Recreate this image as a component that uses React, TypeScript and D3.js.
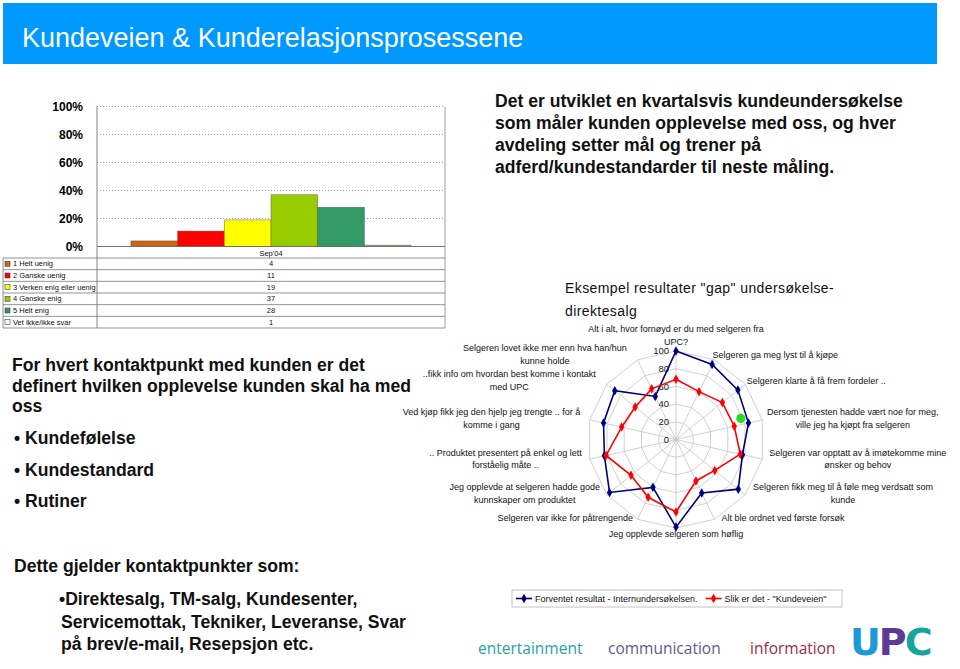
import React from "react";
import * as d3 from "d3";

// ---------- Data ----------
const titleText = "Kundeveien & Kunderelasjonsprosessene";

const barCategories = ["Sep'04"];
const barSeries = [
  "1 Helt uenig",
  "2 Ganske uenig",
  "3 Verken enig eller uenig",
  "4 Ganske enig",
  "5 Helt enig",
  "Vet ikke/ikke svar",
];
const barValues = [4, 11, 19, 37, 28, 1];
const barColors = ["#cc6611", "#ff0000", "#ffff00", "#99cc00", "#339966", "#aaa890"];
const keyColors = ["#cc6611", "#ff0000", "#ffff00", "#99cc00", "#339966", "#ffffff"];
const barTicks = [0, 20, 40, 60, 80, 100];

const radarAxes: string[][] = [
  ["Alt i alt, hvor fornøyd er du med selgeren fra", "UPC?"],
  ["Selgeren ga meg lyst til å kjøpe"],
  ["Selgeren klarte å få frem fordeler .."],
  ["Dersom tjenesten hadde vært noe for meg,", "ville jeg ha kjøpt fra selgeren"],
  ["Selgeren var opptatt av å imøtekomme mine", "ønsker og behov"],
  ["Selgeren fikk meg til å føle meg verdsatt som", "kunde"],
  ["Alt ble ordnet ved første forsøk"],
  ["Jeg opplevde selgeren som høflig"],
  ["Selgeren var ikke for påtrengende"],
  ["Jeg opplevde at selgeren hadde gode", "kunnskaper om produktet"],
  [".. Produktet presentert på enkel og lett", "forståelig måte .."],
  ["Ved kjøp fikk jeg den hjelp jeg trengte .. for å", "komme i gang"],
  ["..fikk info om hvordan best komme i kontakt", "med UPC"],
  ["Selgeren lovet ikke mer enn hva han/hun", "kunne holde"],
];
const expectedValues = [100, 94, 89.5, 84, 77, 90, 67, 99, 60, 96, 83, 84, 88.5, 54];
const actualValues = [68, 60, 67, 67.5, 74.5, 56, 52, 82, 72.5, 65, 81, 63, 59, 63.5];
const radarTicks = [0, 20, 40, 60, 80, 100];
const radarSeriesNames = ["Forventet resultat - Internundersøkelsen.", 'Slik er det - "Kundeveien"'];
const radarColors = ["#000080", "#ff0000"];
const highlightAxis = 2.8;
const highlightValue = 77;

const radarTitle = ['Eksempel resultater "gap" undersøkelse-', "direktesalg"];
const rightText = [
  "Det er utviklet en kvartalsvis kundeundersøkelse",
  "som måler kunden opplevelse med oss, og hver",
  "avdeling setter mål og trener på",
  "adferd/kundestandarder til neste måling.",
];
const leftText = [
  "For hvert kontaktpunkt med kunden er det",
  "definert hvilken opplevelse kunden skal ha med",
  "oss",
];
const bullets = ["• Kundefølelse", "• Kundestandard", "• Rutiner"];
const appliesHead = "Dette gjelder kontaktpunkter som:";
const appliesLines = [
  "•Direktesalg, TM-salg, Kundesenter,",
  "Servicemottak, Tekniker, Leveranse, Svar",
  "på brev/e-mail, Resepsjon etc.",
];
const footerWords = ["entertainment", "communication", "information"];
const footerColors = ["#2aa39c", "#66588a", "#a3284c"];
const logoLetters = ["U", "P", "C"];
const logoColors = ["#1b9ad6", "#5c3a96", "#14a59b"];

const FONT = "'Liberation Sans', Arial, Helvetica, sans-serif";

let _ctx: CanvasRenderingContext2D | null = null;
function measure(text: string, font: string) {
  if (!_ctx) _ctx = document.createElement("canvas").getContext("2d");
  if (!_ctx) return text.length * 4.5;
  _ctx.font = font;
  return _ctx.measureText(text).width;
}

export default function App() {
  // ---------- Bar chart ----------
  const plotL = 97, plotR = 445, plotT = 106.5, plotB = 246.5;
  const x0 = d3.scaleBand().domain(barCategories).range([plotL, plotR]).paddingInner(0).paddingOuter(0.121);
  const x1 = d3.scaleBand().domain(barSeries).range([0, x0.bandwidth()]).padding(0);
  const y = d3.scaleLinear().domain([0, 100]).range([plotB, plotT]);
  const tableTop = 258, tableBottom = 328;
  const rowY = d3.scaleBand().domain(barSeries).range([tableTop, tableBottom]);

  // ---------- Radar ----------
  const cx = 676, cy = 439.5;
  const r = d3.scaleLinear().domain([0, 100]).range([0, 88.5]);
  const n = radarAxes.length;
  const angle = (i: number) => (i * 2 * Math.PI) / n;
  const radial = d3
    .lineRadial<number>()
    .angle((_, i) => angle(i))
    .radius((d) => r(d))
    .curve(d3.curveLinearClosed);
  const diamond = d3.symbol().type(d3.symbolDiamond).size(26)();
  const pt = (i: number, v: number) => [cx + r(v) * Math.sin(angle(i)), cy - r(v) * Math.cos(angle(i))];

  const labelFont = `9px ${FONT}`;
  const lh = 12.5;
  const labelR = r(100) + 6;
  const labels = radarAxes.map((lines, i) => {
    const a = angle(i);
    const s = Math.sin(a), c = Math.cos(a);
    const ax = cx + labelR * s, ay = cy - labelR * c;
    const w = Math.max(...lines.map((l) => measure(l, labelFont)));
    const h = lines.length * lh;
    let mx: number, my: number;
    if (Math.abs(s) < 0.1) {
      mx = ax;
      my = c > 0 ? ay - h / 2 + 3 : ay;
    } else if (s > 0) {
      mx = ax + w / 2 - 5 * c;
      my = ay + (c < 0 ? 8 * c : 0);
    } else {
      mx = ax - w / 2 - 2 - 7 * Math.max(c, 0);
      my = ay + (c < 0 ? 8 * c : 0);
    }
    return { lines, mx, top: my - h / 2 };
  });

  const legendFont = `9px ${FONT}`;
  const leg1W = measure(radarSeriesNames[0], legendFont);

  const footerFont = "'Open Sans', 'Noto Sans', sans-serif";
  const footerX = [478, 608, 750];

  const hl = pt(highlightAxis, highlightValue);

  return (
    <svg
      width={960}
      height={669}
      viewBox="0 0 960 669"
      style={{ position: "absolute", left: 0, top: 0, background: "#ffffff" }}
      fontFamily={FONT}
    >
      <rect x={0} y={0} width={960} height={669} fill="#ffffff" />
      {/* Title band */}
      <rect x={3} y={3} width={934} height={61} fill="#0099ff" />
      <text x={22} y={47} fontSize={27} fill="#ffffff">
        {titleText}
      </text>

      {/* ---------- Bar chart ---------- */}
      <g>
        {barTicks.map((t) =>
          t === 0 ? null : (
            <line key={t} x1={plotL} x2={plotR} y1={y(t)} y2={y(t)} stroke="#888" strokeWidth={0.8} strokeDasharray="1,2" />
          )
        )}
        {barTicks.map((t) => (
          <text key={t} x={83} y={y(t)} dy="0.35em" textAnchor="end" fontSize={12} fontWeight="bold" fill="#000">
            {t}%
          </text>
        ))}
        {barCategories.map((cat) =>
          barSeries.map((s, i) => (
            <rect
              key={s}
              x={(x0(cat) ?? 0) + (x1(s) ?? 0)}
              y={y(barValues[i])}
              width={x1.bandwidth()}
              height={y(0) - y(barValues[i])}
              fill={barColors[i]}
              stroke="#404040"
              strokeOpacity={0.6}
              strokeWidth={0.6}
            />
          ))
        )}
        {/* axis & table frame */}
        <line x1={plotL} x2={plotR} y1={y(0)} y2={y(0)} stroke="#666" strokeWidth={0.9} />
        <line x1={plotL} x2={plotL} y1={plotT} y2={tableBottom} stroke="#777" strokeWidth={0.9} />
        <line x1={plotR} x2={plotR} y1={plotT} y2={tableBottom} stroke="#888" strokeWidth={0.8} />
        <line x1={3} x2={3} y1={tableTop} y2={tableBottom} stroke="#777" strokeWidth={0.8} />
        {barCategories.map((cat) => (
          <text key={cat} x={(x0(cat) ?? 0) + x0.bandwidth() / 2} y={255.5} textAnchor="middle" fontSize={7.5} fill="#111">
            {cat}
          </text>
        ))}
        {barSeries.map((s, i) => {
          const top = rowY(s) ?? 0;
          const mid = top + rowY.bandwidth() / 2;
          return (
            <g key={s}>
              <line x1={3} x2={plotR} y1={top} y2={top} stroke="#777" strokeWidth={0.8} />
              <rect x={5} y={mid - 2.5} width={5} height={5} fill={keyColors[i]} stroke="#444" strokeWidth={0.6} />
              <text x={13} y={mid} dy="0.35em" fontSize={7.5} fill="#111">
                {s}
              </text>
              {barCategories.map((cat) => (
                <text key={cat} x={(x0(cat) ?? 0) + x0.bandwidth() / 2} y={mid} dy="0.35em" textAnchor="middle" fontSize={7.5} fill="#111">
                  {barValues[i]}
                </text>
              ))}
            </g>
          );
        })}
        <line x1={3} x2={plotR} y1={tableBottom} y2={tableBottom} stroke="#777" strokeWidth={0.8} />
      </g>

      {/* ---------- Right text ---------- */}
      {rightText.map((l, i) => (
        <text key={i} x={495} y={107 + i * 22} fontSize={17.6} fontWeight="bold" fill="#111">
          {l}
        </text>
      ))}

      {/* ---------- Left text ---------- */}
      {leftText.map((l, i) => (
        <text key={i} x={12} y={371 + i * 20.5} fontSize={17.6} fontWeight="bold" fill="#111">
          {l}
        </text>
      ))}
      {bullets.map((l, i) => (
        <text key={i} x={14} y={444 + i * 31.5} fontSize={17.6} fontWeight="bold" fill="#111">
          {l}
        </text>
      ))}
      <text x={14} y={572} fontSize={17.6} fontWeight="bold" fill="#111">
        {appliesHead}
      </text>
      {appliesLines.map((l, i) => (
        <text key={i} x={i === 0 ? 59 : 61} y={605 + i * 22.5} fontSize={17.6} fontWeight="bold" fill="#111">
          {l}
        </text>
      ))}

      {/* ---------- Radar ---------- */}
      {radarTitle.map((l, i) => (
        <text key={i} x={565} y={293 + i * 23} fontSize={14} letterSpacing={0.4} fill="#111">
          {l}
        </text>
      ))}
      <g transform={`translate(${cx},${cy})`}>
        {radarTicks
          .filter((t) => t > 0)
          .map((t) => (
            <path key={t} d={radial(radarAxes.map(() => t)) ?? ""} fill="none" stroke="#c4c4c4" strokeWidth={0.8} />
          ))}
        {radarAxes.map((_, i) => (
          <line
            key={i}
            x1={0}
            y1={0}
            x2={r(100) * Math.sin(angle(i))}
            y2={-r(100) * Math.cos(angle(i))}
            stroke="#c4c4c4"
            strokeWidth={0.8}
          />
        ))}
        {radarTicks.map((t) => (
          <text key={t} x={-7} y={-r(t)} dy="0.35em" textAnchor="end" fontSize={9.5} fill="#222">
            {t}
          </text>
        ))}
      </g>
      {[expectedValues, actualValues].map((vals, si) => (
        <g key={si} transform={`translate(${cx},${cy})`}>
          <path d={radial(vals) ?? ""} fill="none" stroke={radarColors[si]} strokeWidth={1.6} />
          {vals.map((v, i) => (
            <path
              key={i}
              d={diamond ?? ""}
              transform={`translate(${r(v) * Math.sin(angle(i))},${-r(v) * Math.cos(angle(i))})`}
              fill={radarColors[si]}
            />
          ))}
        </g>
      ))}
      <circle cx={hl[0]} cy={hl[1]} r={4.6} fill="#22dd22" />
      {labels.map((lb, i) => (
        <text key={i} fontSize={9} fill="#111" textAnchor="middle">
          {lb.lines.map((l, k) => (
            <tspan key={k} x={lb.mx} y={lb.top + lh * (k + 0.5)} dy="0.35em">
              {l}
            </tspan>
          ))}
        </text>
      ))}

      {/* legend */}
      <rect x={512} y={590} width={330} height={17} fill="#fff" stroke="#a8a8a8" strokeWidth={0.7} />
      {radarSeriesNames.map((name, i) => {
        const lx = i === 0 ? 516 : 535 + leg1W + 8;
        return (
          <g key={i}>
            <line x1={lx} x2={lx + 16} y1={598.5} y2={598.5} stroke={radarColors[i]} strokeWidth={1.6} />
            <path d={diamond ?? ""} transform={`translate(${lx + 8},598.5)`} fill={radarColors[i]} />
            <text x={lx + 19} y={598.5} dy="0.35em" fontSize={9} fill="#111">
              {name}
            </text>
          </g>
        );
      })}

      {/* footer */}
      {footerWords.map((w, i) => (
        <text key={w} x={footerX[i]} y={654} fontSize={15.5} fill={footerColors[i]} fontFamily={footerFont}>
          {w}
        </text>
      ))}
      <text x={850} y={655} fontSize={38} fontWeight="bold" fontFamily="'DejaVu Sans', sans-serif" letterSpacing={-2}>
        {logoLetters.map((l, i) => (
          <tspan key={l} fill={logoColors[i]}>
            {l}
          </tspan>
        ))}
      </text>
    </svg>
  );
}
